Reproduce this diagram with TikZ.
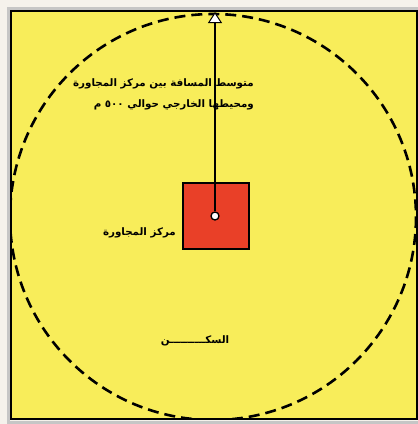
\documentclass[tikz,border=0pt]{standalone}
\usepackage{fontspec}
\newfontfamily\arabicfont[Script=Arabic]{DejaVu Sans}
\TeXXeTstate=1
\usetikzlibrary{arrows.meta}
\definecolor{fondo}{RGB}{248,237,90}
\definecolor{rojo}{RGB}{233,64,40}
\definecolor{margen}{RGB}{245,242,236}

\begin{document}
\begin{tikzpicture}[x=1pt, y=-1pt,
    texto/.style={font=\arabicfont\bfseries\fontsize{10.3}{21}\selectfont, inner sep=0pt}]
    \useasboundingbox (0,0) rectangle (418,424);
    \fill[margen] (0,0) rectangle (418,424);
    \draw[gray!45, line width=3] (8,8) rectangle (421,422);
    \fill[fondo] (11,11) rectangle (417,419);

    \begin{scope}
        \clip (11,11) rectangle (417,419);  % dentro del marco
        \draw[line width=2.6, dash pattern=on 11pt off 6pt] (213,217) circle (203);
    \end{scope}

    % Marco
    \draw[line width=1.6] (11,11) rectangle (417,419);

    \node[draw, fill=rojo, line width=1.8, minimum size=66, inner sep=0] (centro) at (216,216) {};
    \node[texto, align=right, anchor=east] (distancia) at (254,94)
        {\beginR متوسط المسافة بين مركز المجاورة\endR\\
         \beginR ومحيطها الخارجي حوالي \beginL ٥٠٠\endL{} م\endR};
    \node[texto, anchor=east] (etiqueta) at (176,233) {\beginR مركز المجاورة\endR};
    \node[texto, anchor=center] (sakan) at (195,341) {\beginR السكــــــــــن\endR};

    \node[circle, draw, fill=white, line width=1.3, minimum size=8, inner sep=0] (punto) at (215,216) {};
    \coordinate (borde) at (215,12);
    \draw[line width=1.8, -{Triangle[width=14pt, length=11pt, fill=white, line width=1]}] (punto) -- (borde);
\end{tikzpicture}
\end{document}
